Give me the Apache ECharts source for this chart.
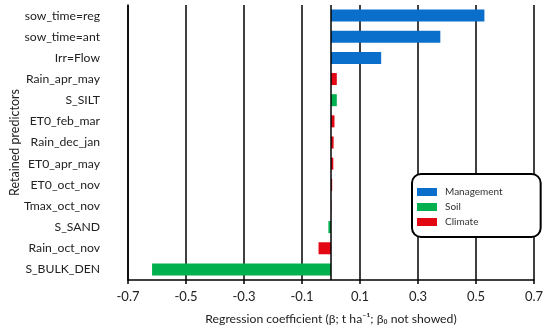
<!DOCTYPE html>
<html><head><meta charset="utf-8">
<script src="https://cdn.jsdelivr.net/npm/echarts@6/dist/echarts.min.js"></script>
<style>html,body{margin:0;padding:0;background:#fff}#c{width:550px;height:331px}</style>
</head><body><div id="c"></div>
<script>
const categories = ["sow_time=reg","sow_time=ant","Irr=Flow","Rain_apr_may","S_SILT","ET0_feb_mar","Rain_dec_jan","ET0_apr_may","ET0_oct_nov","Tmax_oct_nov","S_SAND","Rain_oct_nov","S_BULK_DEN"];
const values = [0.529, 0.377, 0.173, 0.020, 0.020, 0.012, 0.009, 0.008, 0.004, 0.001, -0.009, -0.043, -0.617];
const groups = ["Management","Management","Management","Climate","Soil","Climate","Climate","Climate","Climate","Climate","Soil","Climate","Soil"];
const groupNames = ["Management","Soil","Climate"];
const groupColors = {"Management":"#0A6FCB","Soil":"#00B04F","Climate":"#E30613"};
const xTicks = {min:-0.7, max:0.7, step:0.2};

const FONT = "Lato";
const series = groupNames.map((g, gi) => ({
  name: g, type: 'bar', stack: 'all', barWidth: 12,
  itemStyle: {color: groupColors[g]},
  data: values.map((v, i) => groups[i] === g ? v : '-'),
  markLine: gi === 0 ? {silent:true, symbol:['none','none'], label:{show:false},
    lineStyle:{color:'#000', width:1.5, type:'solid'}, data:[{xAxis:0}]} : undefined
}));

const chart = echarts.init(document.getElementById('c'), null, {renderer:'canvas'});
chart.setOption({
  animation:false,
  textStyle:{fontFamily:FONT},
  grid:{left:128, right:16, top:5, bottom:51, containLabel:false, outerBoundsMode:'none'},
  legend:{
    orient:'vertical', left:412, top:174, data:groupNames,
    itemWidth:20, itemHeight:8, itemGap:5, icon:'rect',
    borderColor:'#000', borderWidth:2, borderRadius:9,
    padding:[13, 38, 10, 5], backgroundColor:'#fff',
    textStyle:{fontFamily:FONT, fontSize:10, color:'#333', padding:[0,0,0,3]}
  },
  xAxis:{
    type:'value', min:xTicks.min, max:xTicks.max, interval:xTicks.step,
    name:'Regression coefficient (β; t ha⁻¹; β₀ not showed)', nameLocation:'middle', nameGap:33,
    nameMoveOverlap:false,
    nameTextStyle:{fontFamily:FONT, fontSize:12.2, color:'#222'},
    axisLine:{show:true, onZero:false, lineStyle:{color:'#000', width:1.5}},
    axisTick:{show:true, length:4, lineStyle:{color:'#000', width:1.5}},
    axisLabel:{fontFamily:FONT, fontSize:13, color:'#222', margin:10, formatter:v => v.toFixed(1)},
    splitLine:{show:true, lineStyle:{color:'#000', width:1.5}}
  },
  yAxis:{
    type:'category', data:categories, inverse:true,
    name:'Retained predictors', nameLocation:'middle', nameGap:107, nameRotate:90,
    nameMoveOverlap:false,
    nameTextStyle:{fontFamily:FONT, fontSize:12.5, color:'#222'},
    axisLine:{show:true, onZero:false, lineStyle:{color:'#000', width:1.5}},
    axisTick:{show:false},
    axisLabel:{fontFamily:FONT, fontSize:12.2, color:'#222', margin:28},
    splitLine:{show:false}
  },
  series: series
});
</script></body></html>
